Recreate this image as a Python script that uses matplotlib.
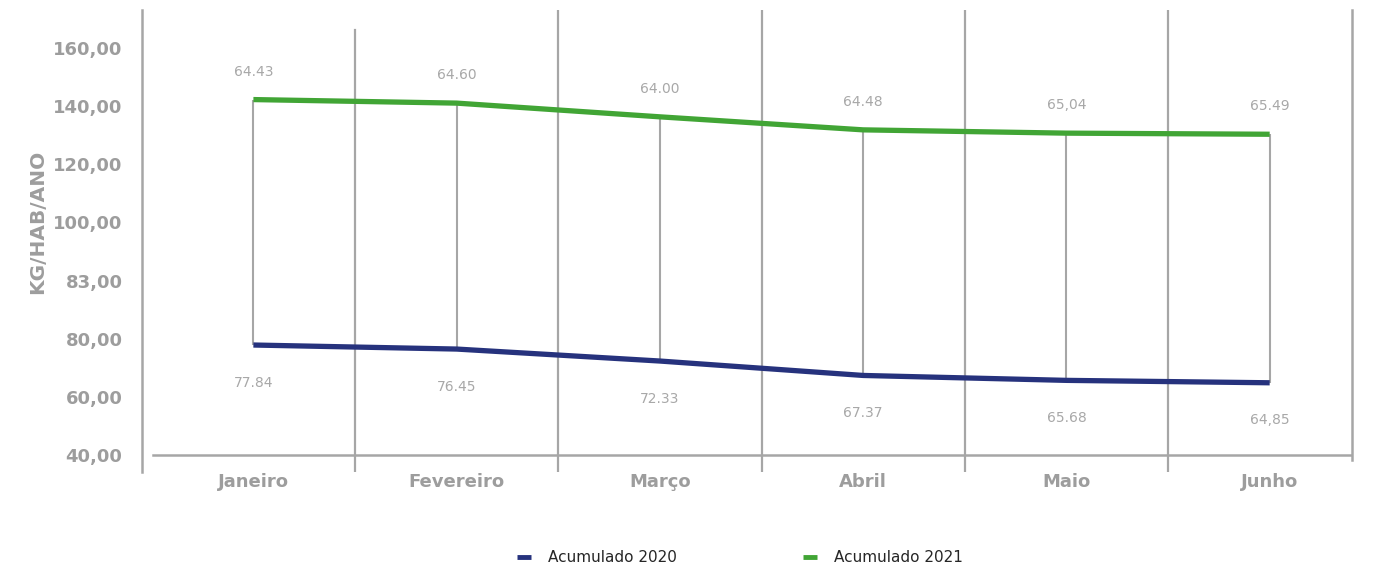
import numpy as np
import matplotlib.pyplot as plt
from matplotlib.lines import Line2D

# Monthly consumption (kg/hab/ano)
months = ["Janeiro", "Fevereiro", "Março", "Abril", "Maio", "Junho"]
acum_2020 = [77.84, 76.45, 72.33, 67.37, 65.68, 64.85]
acum_2021 = [64.43, 64.60, 64.00, 64.48, 65.04, 65.49]
labels_2020 = ["77.84", "76.45", "72.33", "67.37", "65.68", "64,85"]
labels_2021 = ["64.43", "64.60", "64.00", "64.48", "65,04", "65.49"]

# Value axis: tick values are spaced evenly on the page
ytick_values = [40, 60, 80, 83, 100, 120, 140, 160]
ytick_labels = ["40,00", "60,00", "80,00", "83,00", "100,00", "120,00", "140,00", "160,00"]

GRID = "#a6a6a6"
TXT = "#9d9d9d"
LBL = "#a8a8a8"
GREEN = "#41a535"
NAVY = "#26327d"

# piecewise-linear scale through the tick values (extended at both ends)
anchor_v = np.array([20] + ytick_values + [180], dtype=float)
anchor_p = np.arange(-1, len(ytick_values) + 1, dtype=float)


def forward(v):
    return np.interp(v, anchor_v, anchor_p)


def inverse(p):
    return np.interp(p, anchor_p, anchor_v)


W, H = 1389, 573
fig = plt.figure(figsize=(W / 100, H / 100), dpi=100)
ax = fig.add_axes([142 / W, 1 - 472 / H, (1352 - 142) / W, 462 / H])
ax.set_yscale("function", functions=(forward, inverse))

x = np.arange(len(months))
stack_2021 = np.array(acum_2020) + np.array(acum_2021)

ax.set_xlim(-0.548, 5.405)
ax.set_ylim(inverse(-0.292), inverse(7.654))

# category separators
for i in range(len(months) - 1):
    top = 0.957 if i == 0 else 1.0
    ax.axvline(i + 0.5, ymin=0, ymax=top, color=GRID, lw=1.6, zorder=1)

# baseline
ax.axhline(40, xmin=11 / 1210, xmax=1, color=GRID, lw=1.8, zorder=1)

# high-low lines between the two series
ax.vlines(x, acum_2020, stack_2021, color=GRID, lw=1.5, zorder=2)

ax.plot(x, acum_2020, color=NAVY, lw=3.8, solid_capstyle="butt", zorder=3)
ax.plot(x, stack_2021, color=GREEN, lw=3.8, solid_capstyle="butt", zorder=3)

for xi, v, t in zip(x, stack_2021, labels_2021):
    ax.annotate(t, (xi, v), xytext=(0, 20), textcoords="offset points",
                ha="center", va="center", fontsize=10, color=LBL)
for xi, v, t in zip(x, acum_2020, labels_2020):
    ax.annotate(t, (xi, v), xytext=(0, -27), textcoords="offset points",
                ha="center", va="center", fontsize=10, color=LBL)

# axes styling
for side in ("top", "bottom"):
    ax.spines[side].set_visible(False)
for side in ("left", "right"):
    ax.spines[side].set_color(GRID)
    ax.spines[side].set_linewidth(1.8)
ax.spines["right"].set_bounds(inverse(-0.086), inverse(7.654))

ax.set_yticks(ytick_values)
ax.set_yticklabels(ytick_labels)
ax.yaxis.set_minor_locator(plt.NullLocator())
ax.set_xticks(x)
ax.set_xticklabels(months)
ax.tick_params(axis="y", length=0, pad=14, labelsize=13, labelcolor=TXT)
ax.tick_params(axis="x", length=0, pad=1, labelsize=13, labelcolor=TXT)
for lab in ax.get_xticklabels() + ax.get_yticklabels():
    lab.set_fontweight("bold")

ax.set_ylabel("KG/HAB/ANO", fontsize=14.5, fontweight="bold", color=TXT)
ax.yaxis.set_label_coords(-0.078, 0.541)

handles = [
    Line2D([], [], color=NAVY, lw=3.5, solid_capstyle="butt"),
    Line2D([], [], color=GREEN, lw=3.5, solid_capstyle="butt"),
]
fig.legend(handles, ["Acumulado 2020", "Acumulado 2021"], loc="center",
           bbox_to_anchor=(740 / W, 1 - 558 / H), ncol=2, frameon=False,
           fontsize=11, handlelength=0.9, handletextpad=1.1,
           columnspacing=8.3, labelcolor="#262626")

fig.savefig("out.png", dpi=100)
